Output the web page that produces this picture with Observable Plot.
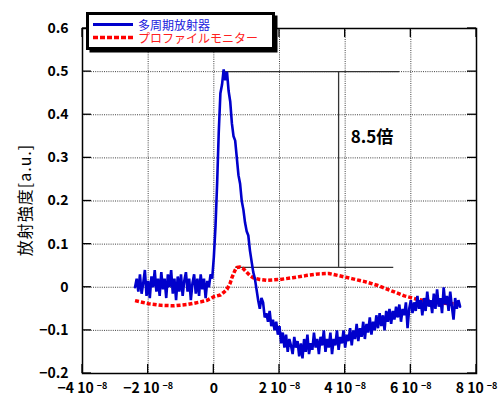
<!DOCTYPE html>
<html><head><meta charset="utf-8">
<script src="https://cdn.jsdelivr.net/npm/d3@7"></script>
<script src="https://cdn.jsdelivr.net/npm/@observablehq/plot@0.6"></script>
<style>body{margin:0;background:#fff}</style>
</head><body><div id="chart"></div>
<script>
// [time (10^-8 s), intensity (a.u.)]
const bluePts = [
  [-2.4,0.0],[-2.35,0.02],[-2.3,-0.01],[-2.25,0.03],[-2.2,-0.015],[-2.15,0.01],[-2.1,0.04],[-2.05,-0.02],[-2.0,0.015],[-1.95,-0.025],
  [-1.9,0.025],[-1.85,0.0],[-1.8,0.04],[-1.75,-0.01],[-1.7,0.02],[-1.65,-0.02],[-1.6,0.035],[-1.55,-0.005],[-1.5,0.02],[-1.45,-0.025],
  [-1.4,0.03],[-1.35,0.0],[-1.3,0.04],[-1.25,-0.015],[-1.2,0.02],[-1.15,-0.03],[-1.1,0.025],[-1.05,-0.01],[-1.0,0.03],[-0.95,-0.02],
  [-0.9,0.015],[-0.85,0.035],[-0.8,-0.01],[-0.75,0.02],[-0.7,-0.03],[-0.65,0.01],[-0.6,0.03],[-0.55,-0.015],[-0.5,0.02],[-0.45,-0.02],
  [-0.4,0.03],[-0.35,-0.005],[-0.3,0.02],[-0.25,-0.025],[-0.2,0.015],[-0.15,0.0],[-0.1,0.03],[-0.05,0.02],
  [0.0,0.07],[0.05,0.14],[0.1,0.24],[0.15,0.36],[0.2,0.45],[0.25,0.47],[0.3,0.505],[0.35,0.48],[0.4,0.50],[0.45,0.455],
  [0.5,0.43],[0.55,0.38],[0.6,0.35],[0.65,0.34],[0.7,0.30],[0.75,0.26],[0.8,0.24],[0.85,0.20],[0.9,0.18],[0.95,0.15],
  [1.0,0.13],[1.05,0.12],[1.1,0.085],[1.15,0.06],[1.2,0.035],[1.25,0.02],
  [1.3,-0.005],[1.35,-0.03],[1.4,-0.05],[1.45,-0.025],[1.5,-0.035],[1.55,-0.07],[1.6,-0.06],[1.65,-0.08],[1.7,-0.055],[1.75,-0.09],
  [1.8,-0.075],[1.85,-0.1],[1.9,-0.08],[1.95,-0.11],[2.0,-0.09],[2.05,-0.13],[2.1,-0.105],[2.15,-0.14],[2.2,-0.11],[2.25,-0.15],
  [2.3,-0.12],[2.35,-0.135],[2.4,-0.155],[2.45,-0.115],[2.5,-0.14],[2.55,-0.125],[2.6,-0.16],[2.65,-0.13],[2.7,-0.165],[2.75,-0.12],
  [2.8,-0.15],[2.85,-0.11],[2.9,-0.155],[2.95,-0.13],[3.0,-0.145],[3.05,-0.105],[3.1,-0.14],[3.15,-0.12],[3.2,-0.155],[3.25,-0.115],
  [3.3,-0.135],[3.35,-0.1],[3.4,-0.15],[3.45,-0.12],[3.5,-0.14],[3.55,-0.105],[3.6,-0.155],[3.65,-0.12],[3.7,-0.135],[3.75,-0.1],
  [3.8,-0.145],[3.85,-0.115],[3.9,-0.13],[3.95,-0.1],[4.0,-0.14],[4.05,-0.11],[4.1,-0.125],[4.15,-0.095],[4.2,-0.135],[4.25,-0.1],
  [4.3,-0.12],[4.35,-0.085],[4.4,-0.125],[4.45,-0.095],[4.5,-0.115],[4.55,-0.08],[4.6,-0.12],[4.65,-0.085],[4.7,-0.105],[4.75,-0.07],
  [4.8,-0.11],[4.85,-0.08],[4.9,-0.1],[4.95,-0.065],[5.0,-0.095],[5.05,-0.06],[5.1,-0.09],[5.15,-0.065],[5.2,-0.1],[5.25,-0.055],
  [5.3,-0.08],[5.35,-0.05],[5.4,-0.085],[5.45,-0.055],[5.5,-0.075],[5.55,-0.045],[5.6,-0.07],[5.65,-0.04],[5.7,-0.08],[5.75,-0.05],
  [5.8,-0.065],[5.85,-0.035],[5.9,-0.095],[5.95,-0.05],[6.0,-0.03],[6.05,-0.06],[6.1,-0.035],[6.15,-0.055],[6.2,-0.02],[6.25,-0.05],
  [6.3,-0.03],[6.35,-0.065],[6.4,-0.025],[6.45,-0.055],[6.5,-0.01],[6.55,-0.045],[6.6,-0.03],[6.65,-0.06],[6.7,-0.015],[6.75,-0.05],
  [6.8,-0.005],[6.85,-0.045],[6.9,-0.025],[6.95,-0.06],[7.0,0.0],[7.05,-0.04],[7.1,-0.02],[7.15,-0.055],[7.2,-0.01],[7.25,-0.045],
  [7.3,-0.075],[7.35,-0.025],[7.4,-0.05],[7.45,-0.03],[7.5,-0.045]
];
const redPts = [
  [-2.4,-0.031],[-2.0,-0.038],[-1.6,-0.042],[-1.2,-0.043],[-0.8,-0.040],[-0.4,-0.034],[-0.2,-0.030],[0.0,-0.022],[0.2,-0.018],[0.3,-0.012],
  [0.4,-0.005],[0.5,0.010],[0.55,0.022],[0.65,0.040],[0.7,0.046],[0.8,0.047],[0.9,0.043],[1.0,0.035],[1.1,0.027],[1.2,0.022],
  [1.4,0.018],[1.6,0.016],[1.8,0.017],[2.0,0.018],[2.4,0.022],[2.8,0.027],[3.2,0.031],[3.5,0.032],[3.8,0.027],[4.2,0.020],
  [4.6,0.013],[5.0,0.004],[5.4,-0.008],[5.8,-0.020],[6.2,-0.028],[6.6,-0.033],[7.0,-0.037],[7.5,-0.039]
];
const seriesNames = ["多周期放射器", "プロファイルモニター"];
const seriesColors = ["#0000cc", "#ff0000"];
const xTicks = [-4,-2,0,2,4,6,8];
const yTicks = [-0.2,-0.1,0,0.1,0.2,0.3,0.4,0.5,0.6];
const yLabel = "放射強度[a.u.]";
const ratioText = "8.5倍";
const ratioPos = [4.17, 0.347];
const guideX1 = [0.27, 0.67];
const guideX2 = [5.66, 5.48];
const guideY = [0.5, 0.046];
const vGuideX = 3.8;

const blue = bluePts.map(([t, v]) => ({t, v}));
const red = redPts.map(([t, v]) => ({t, v}));
const guides = guideY.map((y,i)=>({y, x1: guideX1[i], x2: guideX2[i]}));

const numFont = "'Noto Sans CJK JP', 'DejaVu Sans', sans-serif";
const chart = Plot.plot({
  width: 499, height: 399,
  marginLeft: 82, marginRight: 23, marginTop: 28, marginBottom: 26,
  style: {fontFamily: numFont, fontSize: "14px", fontWeight: "bold", background: "#fff", color: "#000"},
  x: {domain: [-4, 8]},
  y: {domain: [-0.2, 0.6]},
  marks: [
    Plot.gridX(xTicks, {stroke: "#000", strokeOpacity: 0.75, strokeDasharray: "1,1.2"}),
    Plot.gridY(yTicks, {stroke: "#000", strokeOpacity: 0.75, strokeDasharray: "1,1.2"}),
    Plot.axisX(xTicks, {tickSize: 0, tickPadding: 10, label: null,
      tickFormat: d => d === 0 ? "0" : `${d < 0 ? "−" : ""}${Math.abs(d)} 10`}),
    Plot.axisY(yTicks, {tickSize: 0, tickPadding: 14, label: null,
      tickFormat: d => d === 0 ? "0" : (d < 0 ? "−" : "") + Math.abs(d).toFixed(1)}),
    Plot.ruleY(guides, {y: "y", x1: "x1", x2: "x2", stroke: "#333", strokeWidth: 1.3}),
    Plot.ruleX([vGuideX], {x: d => d, y1: guideY[1], y2: guideY[0], stroke: "#333", strokeWidth: 1.3}),
    Plot.line(red, {x: "t", y: "v", stroke: seriesColors[1], strokeWidth: 3.5, strokeDasharray: "4,2", strokeLinecap: "butt", strokeLinejoin: "miter"}),
    Plot.line(blue, {x: "t", y: "v", stroke: seriesColors[0], strokeWidth: 2.6, strokeLinejoin: "miter"}),
    Plot.text([ratioText], {x: ratioPos[0], y: ratioPos[1], text: d => d, textAnchor: "start", fontSize: 17, fontWeight: "bold", fill: "#000"}),
    Plot.frame({stroke: "#000", strokeWidth: 1.5})
  ]
});
document.getElementById("chart").appendChild(chart);

const svg = d3.select(chart);
// superscript exponent on x tick labels
svg.selectAll('g[aria-label="x-axis tick label"] text').each(function() {
  const t = d3.select(this);
  if (t.text() !== "0") {
    t.append("tspan").attr("dx", "3").attr("dy", "-0.45em").attr("font-size", "9px").text("−8");
  }
});
// inward ticks on all four sides
const sx = chart.scale("x"), sy = chart.scale("y");
const L = sx.apply(-4), R = sx.apply(8), T = sy.apply(0.6), B = sy.apply(-0.2);
const tk = svg.append("g").attr("stroke", "#000").attr("stroke-width", 1.3);
yTicks.forEach(v => {
  const y = sy.apply(v);
  tk.append("line").attr("x1", L).attr("x2", L + 9).attr("y1", y).attr("y2", y);
  tk.append("line").attr("x1", R - 9).attr("x2", R).attr("y1", y).attr("y2", y);
});
xTicks.forEach(v => {
  const x = sx.apply(v);
  tk.append("line").attr("x1", x).attr("x2", x).attr("y1", B).attr("y2", B - 9);
  tk.append("line").attr("x1", x).attr("x2", x).attr("y1", T).attr("y2", T + 9);
});
// y label
svg.append("text").attr("transform", "translate(24,200) rotate(-90)")
  .attr("text-anchor", "middle").attr("dominant-baseline", "central")
  .attr("font-family", numFont).attr("font-size", "16px").attr("font-weight", "normal")
  .attr("letter-spacing", "1px").attr("fill", "#000").text(yLabel);
// legend
const lg = svg.append("g");
lg.append("rect").attr("x", 89.5).attr("y", 15.5).attr("width", 188).attr("height", 37).attr("fill", "#000");
lg.append("rect").attr("x", 87.5).attr("y", 13.5).attr("width", 186).attr("height", 35).attr("fill", "#fff").attr("stroke", "#000").attr("stroke-width", 3);
const rows = [24.5, 37.5];
seriesNames.forEach((name, i) => {
  lg.append("line").attr("x1", 93).attr("x2", 133).attr("y1", rows[i]).attr("y2", rows[i])
    .attr("stroke", seriesColors[i]).attr("stroke-width", i ? 3.5 : 2.8)
    .attr("stroke-dasharray", i ? "5,2" : null);
  lg.append("text").attr("x", 138).attr("y", rows[i]).attr("text-anchor", "start").attr("dominant-baseline", "central")
    .attr("font-family", numFont).attr("font-size", "12px").attr("font-weight", "normal")
    .attr("fill", i ? "#ff2020" : "#2020dd").text(name);
});
</script>
</body></html>
